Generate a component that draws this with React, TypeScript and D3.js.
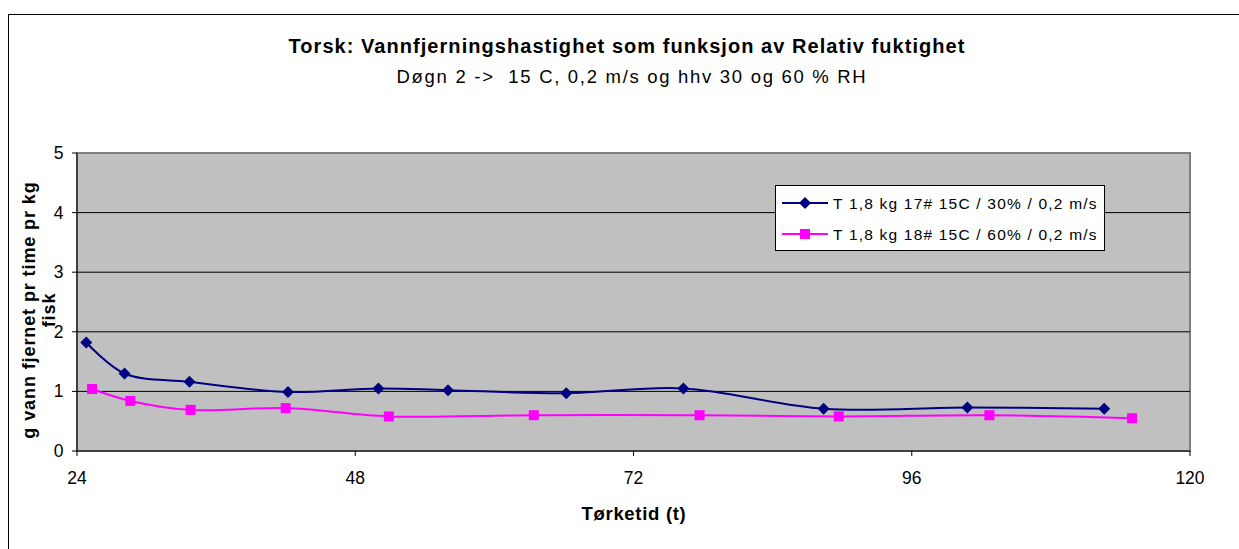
import React from "react";
import * as d3 from "d3";

const xTicks = [24, 48, 72, 96, 120];
const yTicks = [0, 1, 2, 3, 4, 5];

const series1Name = "T 1,8 kg 17# 15C / 30% / 0,2 m/s";
const series1X = [24.8, 28.1, 33.7, 42.2, 50.0, 56.0, 66.2, 76.3, 88.4, 100.8, 112.6];
const series1Y = [1.82, 1.3, 1.16, 0.99, 1.05, 1.02, 0.97, 1.05, 0.71, 0.73, 0.71];

const series2Name = "T 1,8 kg 18# 15C / 60% / 0,2 m/s";
const series2X = [25.3, 28.6, 33.8, 42.0, 50.9, 63.4, 77.7, 89.7, 102.7, 115.0];
const series2Y = [1.04, 0.84, 0.69, 0.72, 0.58, 0.6, 0.6, 0.58, 0.6, 0.55];

const title = "Torsk: Vannfjerningshastighet som funksjon av Relativ fuktighet";
const subtitle = "Døgn 2 ->  15 C, 0,2 m/s og hhv 30 og 60 % RH";
const yTitle1 = "g vann fjernet pr time pr kg";
const yTitle2 = "fisk";
const xTitle = "Tørketid (t)";

export default function App() {
  const W = 1239;
  const H = 549;
  const left = 77;
  const right = 1190;
  const top = 153;
  const bottom = 451;
  const x = d3.scaleLinear().domain([24, 120]).range([left, right]);
  const y = d3.scaleLinear().domain([0, 5]).range([bottom, top]);
  const line = d3
    .line<[number, number]>()
    .x((d) => x(d[0]))
    .y((d) => y(d[1]))
    .curve(d3.curveCatmullRom.alpha(0.5));
  const d1: [number, number][] = series1X.map((v, i) => [v, series1Y[i]]);
  const d2: [number, number][] = series2X.map((v, i) => [v, series2Y[i]]);
  const font = "Liberation Sans, Arial, sans-serif";
  const navy = "#000080";
  const pink = "#FF00FF";
  const diamond = (cx: number, cy: number, key: any) => (
    <path key={key} d={`M${cx},${cy - 6}L${cx + 6},${cy}L${cx},${cy + 6}L${cx - 6},${cy}Z`} fill={navy} />
  );
  const square = (cx: number, cy: number, key: any) => (
    <rect key={key} x={cx - 5} y={cy - 5} width={10} height={10} fill={pink} />
  );
  return (
    <svg
      width={W}
      height={H}
      style={{ position: "absolute", left: 0, top: 0, background: "#fff" }}
      fontFamily={font}
    >
      <rect x={8.5} y={14.5} width={1250} height={560} fill="#fff" stroke="#000" strokeWidth={1} />
      <text x={627} y={53} textAnchor="middle" fontSize={20} fontWeight="bold" letterSpacing={1.05}>
        {title}
      </text>
      <text x={632} y={83} textAnchor="middle" fontSize={18.5} letterSpacing={1.7} style={{ whiteSpace: "pre" }}>
        {subtitle}
      </text>
      <rect x={left} y={top} width={right - left} height={bottom - top} fill="#C0C0C0" stroke="#808080" strokeWidth={2} />
      {yTicks
        .filter((t) => t > 0 && t < 5)
        .map((t) => (
          <line key={t} x1={left} x2={right} y1={y(t)} y2={y(t)} stroke="#000" strokeWidth={1} />
        ))}
      <line x1={left} x2={left} y1={top} y2={bottom} stroke="#000" strokeWidth={1} />
      <line x1={left} x2={right} y1={bottom} y2={bottom} stroke="#000" strokeWidth={1} />
      {yTicks.map((t) => (
        <g key={t}>
          <line x1={left - 5} x2={left} y1={y(t)} y2={y(t)} stroke="#000" />
          <text x={63.5} y={y(t) + 6} textAnchor="end" fontSize={17.5}>
            {t}
          </text>
        </g>
      ))}
      {xTicks.map((t) => (
        <g key={t}>
          <line x1={x(t)} x2={x(t)} y1={bottom} y2={bottom + 5} stroke="#000" />
          <text x={x(t)} y={484} textAnchor="middle" fontSize={17.5}>
            {t}
          </text>
        </g>
      ))}
      <path d={line(d1) || ""} fill="none" stroke={navy} strokeWidth={2} />
      <path d={line(d2) || ""} fill="none" stroke={pink} strokeWidth={2} />
      {d1.map((p, i) => diamond(x(p[0]), y(p[1]), "a" + i))}
      {d2.map((p, i) => square(x(p[0]), y(p[1]), "b" + i))}
      <text x={634} y={520} textAnchor="middle" fontSize={18.5} fontWeight="bold" letterSpacing={0.7}>
        {xTitle}
      </text>
      <g transform={`translate(0,310) rotate(-90)`}>
        <text x={0} y={35} textAnchor="middle" fontSize={18} fontWeight="bold" letterSpacing={0.9}>
          {yTitle1}
        </text>
        <text x={0} y={55} textAnchor="middle" fontSize={18} fontWeight="bold" letterSpacing={0.9}>
          {yTitle2}
        </text>
      </g>
      <rect x={775.5} y={185.5} width={329} height={65} fill="#fff" stroke="#000" strokeWidth={1} />
      <line x1={782} x2={828} y1={203} y2={203} stroke={navy} strokeWidth={2} />
      {diamond(805, 203, "l1")}
      <text x={833} y={208.5} fontSize={15.5} letterSpacing={1.2}>
        {series1Name}
      </text>
      <line x1={782} x2={828} y1={234} y2={234} stroke={pink} strokeWidth={2} />
      {square(805, 234, "l2")}
      <text x={833} y={239.5} fontSize={15.5} letterSpacing={1.2}>
        {series2Name}
      </text>
    </svg>
  );
}
